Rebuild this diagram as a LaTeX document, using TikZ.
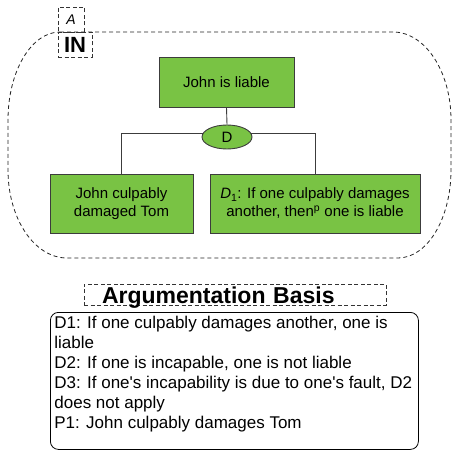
\documentclass[tikz,border=0pt]{standalone}
\usepackage{fontspec}
\setmainfont{Liberation Sans}
\usetikzlibrary{backgrounds,calc,shapes.geometric}
\definecolor{boxgreen}{RGB}{121,195,68}
\definecolor{edgegray}{RGB}{60,60,60}
\tikzset{
  greenbox/.style={draw=edgegray, line width=0.9pt, fill=boxgreen, align=center,
    font=\fontsize{15}{18}\selectfont, inner sep=0pt},
  dashbox/.style={draw=black!80, line width=0.8pt, dash pattern=on 4pt off 2.5pt, inner sep=0pt},
  conn/.style={draw=edgegray, line width=0.9pt},
  region/.style={draw=black!85, line width=0.8pt, dash pattern=on 4pt off 3pt},
}
\begin{document}
\begin{tikzpicture}[x=1pt,y=1pt]
\useasboundingbox (0,0) rectangle (452,450);

% dashed region
\draw[region] (60,418) -- (393,418)
  arc[start angle=90,end angle=0,x radius=58pt,y radius=88pt] -- (451,280)
  arc[start angle=0,end angle=-90,x radius=53pt,y radius=88pt] -- (67,192)
  arc[start angle=270,end angle=180,x radius=59pt,y radius=88pt] -- (8,330)
  arc[start angle=180,end angle=90,x radius=52pt,y radius=88pt];

% labels A and IN
\node[dashbox, minimum width=26pt, minimum height=25pt, font=\fontsize{14}{16}\selectfont\itshape] (lblA) at (71,430.5) {A};
\node[dashbox, minimum width=34pt, minimum height=25pt, font=\fontsize{22}{24}\selectfont\bfseries] (lblIN) at (75,405.5) {IN};

% nodes
\node[greenbox, minimum width=135pt, minimum height=50pt] (top) at (226.5,368) {John is liable};
\node[ellipse, draw=edgegray, line width=0.9pt, fill=boxgreen, minimum width=50pt, minimum height=24pt,
      inner sep=0pt, font=\fontsize{15}{18}\selectfont] (ell) at (227,313) {D};
\node[greenbox, minimum width=143pt, minimum height=59pt] (lbox) at (121.5,246.5) {John culpably\\damaged Tom};
\node[greenbox, minimum width=210pt, minimum height=59pt] (rbox) at (315,246.5)
  {\textit{D}\textsubscript{1}: If one culpably damages\\another, then\textsuperscript{p} one is liable};

% connectors
\begin{scope}[on background layer]
  \draw[conn] (top.south) -- (ell.north);
  \draw[conn] (lbox.north) |- ($(ell.center)+(0,4)$);
  \draw[conn] (rbox.north) |- ($(ell.center)+(0,4)$);
\end{scope}

% argumentation basis
\node[dashbox, minimum width=302pt, text width=266pt, inner xsep=18pt, inner ysep=1.5pt,
      text height=18pt, text depth=0pt, align=left,
      font=\fontsize{23}{25}\selectfont\bfseries] (argtitle) at (235,155.5) {Argumentation Basis};

\node[draw=black, line width=0.8pt, rounded corners=8pt, inner xsep=4pt, inner ysep=4pt, anchor=north west] (basis) at (50,138)
  {\begin{minipage}[t][129pt][t]{360pt}\fontsize{17}{20}\selectfont
   D1: If one culpably damages another, one is\\
   liable\\
   D2: If one is incapable, one is not liable\\
   D3: If one\textquotesingle s incapability is due to one\textquotesingle s fault, D2\\
   does not apply\\
   P1: John culpably damages Tom
   \end{minipage}};
\end{tikzpicture}
\end{document}
